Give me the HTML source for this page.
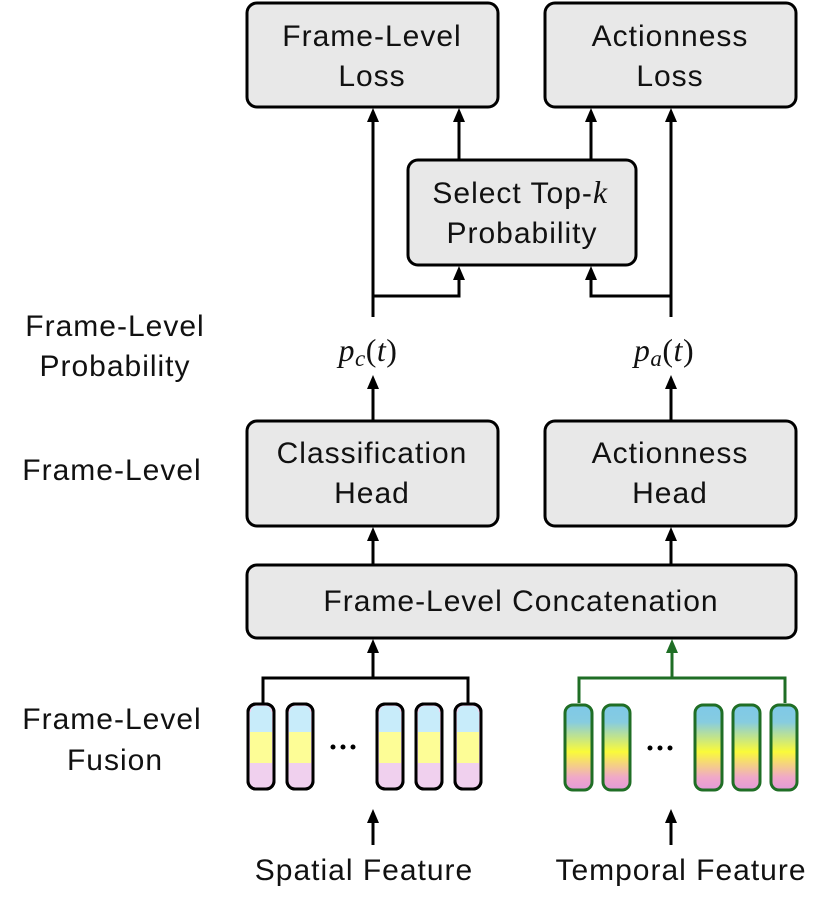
<!DOCTYPE html>
<html><head><meta charset="utf-8"><style>
body{margin:0;background:#fff}
svg text{font-family:"Liberation Sans",sans-serif;font-size:30px;letter-spacing:1px;fill:#111}
.m{font-family:"Liberation Serif",serif;font-style:italic;font-size:32px;letter-spacing:0.5px}
</style></head><body>
<svg width="830" height="911" viewBox="0 0 830 911" xmlns="http://www.w3.org/2000/svg">
<defs>
<linearGradient id="tg" x1="0" y1="0" x2="0" y2="1">
<stop offset="0" stop-color="#7ec8e8"/><stop offset="0.2" stop-color="#86cce0"/><stop offset="0.55" stop-color="#fafa3a"/><stop offset="0.85" stop-color="#f0a8c8"/><stop offset="1" stop-color="#e39ad8"/></linearGradient>
</defs>
<g fill="#e8e8e8" stroke="#000" stroke-width="3">
<rect x="247" y="3" width="251" height="104" rx="10"/>
<rect x="545" y="3" width="251" height="104" rx="10"/>
<rect x="408" y="160" width="228" height="105" rx="10"/>
<rect x="247" y="421" width="251" height="105" rx="10"/>
<rect x="545" y="421" width="251" height="105" rx="10"/>
<rect x="247" y="565" width="549" height="73" rx="10"/>
</g>
<g stroke="#000" stroke-width="3" fill="none">
<path d="M373,317 V118"/>
<path d="M459,160 V118"/>
<path d="M591,160 V118"/>
<path d="M671,317 V118"/>
<path d="M373,296 H459 V276"/>
<path d="M671,296 H591 V276"/>
<path d="M373,421 V385"/>
<path d="M671,421 V385"/>
<path d="M373,565 V536"/>
<path d="M671,565 V536"/>
<path d="M263,703 V678 H468 V703"/>
<path d="M373,678 V648"/>
<path d="M373,845 V818"/>
<path d="M671,845 V818"/>
</g>
<g fill="#000">
<polygon points="367,122 373,108 379,122"/>
<polygon points="453,122 459,108 465,122"/>
<polygon points="585,122 591,108 597,122"/>
<polygon points="665,122 671,108 677,122"/>
<polygon points="453,280 459,266 465,280"/>
<polygon points="585,280 591,266 597,280"/>
<polygon points="367,389 373,375 379,389"/>
<polygon points="665,389 671,375 677,389"/>
<polygon points="367,541 373,527 379,541"/>
<polygon points="665,541 671,527 677,541"/>
<polygon points="367,653 373,639 379,653"/>
<polygon points="367,823 373,809 379,823"/>
<polygon points="665,823 671,809 677,823"/>
</g>
<g stroke="#1f6e25" stroke-width="3" fill="none">
<path d="M579,703 V678 H785 V703"/>
<path d="M672,678 V648"/>
</g>
<polygon points="666,653 672,639 678,653" fill="#1f6e25"/>
<g stroke-width="3">
<g stroke="#000">
<rect x="248" y="704" width="26" height="85" rx="8" fill="#f0d0ee"/>
<rect x="287" y="704" width="26" height="85" rx="8" fill="#f0d0ee"/>
<rect x="377" y="704" width="26" height="85" rx="8" fill="#f0d0ee"/>
<rect x="416" y="704" width="26" height="85" rx="8" fill="#f0d0ee"/>
<rect x="455" y="704" width="26" height="85" rx="8" fill="#f0d0ee"/>
</g>
<g fill="#c8ecfa">
<rect x="250" y="712" width="22" height="20"/><rect x="289" y="712" width="22" height="20"/><rect x="379" y="712" width="22" height="20"/><rect x="418" y="712" width="22" height="20"/><rect x="457" y="712" width="22" height="20"/>
<rect x="251" y="706" width="20" height="12" rx="5"/><rect x="290" y="706" width="20" height="12" rx="5"/><rect x="380" y="706" width="20" height="12" rx="5"/><rect x="419" y="706" width="20" height="12" rx="5"/><rect x="458" y="706" width="20" height="12" rx="5"/>
</g>
<g fill="#fdfd96">
<rect x="250" y="732" width="22" height="31"/><rect x="289" y="732" width="22" height="31"/><rect x="379" y="732" width="22" height="31"/><rect x="418" y="732" width="22" height="31"/><rect x="457" y="732" width="22" height="31"/>
</g>
<g stroke="#000" fill="none">
<rect x="248" y="704" width="26" height="85" rx="8"/><rect x="287" y="704" width="26" height="85" rx="8"/><rect x="377" y="704" width="26" height="85" rx="8"/><rect x="416" y="704" width="26" height="85" rx="8"/><rect x="455" y="704" width="26" height="85" rx="8"/>
</g>
<g stroke="#1f6e25" fill="url(#tg)">
<rect x="565" y="705" width="27" height="85" rx="8"/>
<rect x="603" y="705" width="27" height="85" rx="8"/>
<rect x="695" y="705" width="27" height="85" rx="8"/>
<rect x="733" y="705" width="27" height="85" rx="8"/>
<rect x="771" y="705" width="26" height="85" rx="8"/>
</g>
</g>
<g fill="#000"><circle cx="333" cy="747" r="2.5"/><circle cx="343" cy="747" r="2.5"/><circle cx="353" cy="747" r="2.5"/>
<circle cx="650" cy="748" r="2.5"/><circle cx="660" cy="748" r="2.5"/><circle cx="670" cy="748" r="2.5"/></g>
<g text-anchor="middle">
<text x="372" y="46">Frame-Level</text><text x="372" y="86">Loss</text>
<text x="670" y="46">Actionness</text><text x="670" y="86">Loss</text>
<text x="520" y="203">Select Top-<tspan class="m">k</tspan></text><text x="522" y="243">Probability</text>
<text x="372" y="463">Classification</text><text x="372" y="503">Head</text>
<text x="670" y="463">Actionness</text><text x="670" y="503">Head</text>
<text x="521" y="611">Frame-Level Concatenation</text>
<text x="364" y="880">Spatial Feature</text>
<text x="681" y="880">Temporal Feature</text>
<text class="m" x="368" y="361">p<tspan font-size="23" dy="5">c</tspan><tspan dy="-5" font-style="normal">(</tspan>t<tspan font-style="normal">)</tspan></text>
<text class="m" x="664" y="361">p<tspan font-size="23" dy="5">a</tspan><tspan dy="-5" font-style="normal">(</tspan>t<tspan font-style="normal">)</tspan></text>
<text x="115" y="336">Frame-Level</text><text x="115" y="376">Probability</text>
<text x="112" y="480">Frame-Level</text>
<text x="112" y="729">Frame-Level</text><text x="115" y="770">Fusion</text>
</g>
</svg>
</body></html>
